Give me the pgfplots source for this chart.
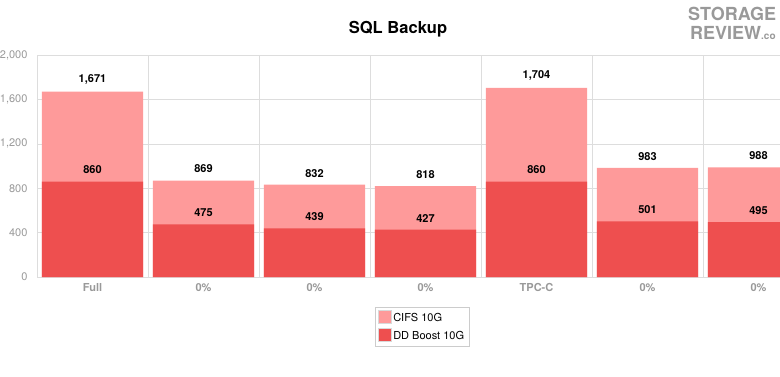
\documentclass[border=0pt]{standalone}
\usepackage{fontspec}
\setmainfont{TeX Gyre Heros}
\usepackage{pgfplots}
\pgfplotsset{compat=1.18}
\definecolor{cifs}{HTML}{FE9A9A}
\definecolor{ddb}{HTML}{EE4F4F}
\definecolor{gridc}{HTML}{DDDDDD}
\definecolor{tickc}{HTML}{999999}
\begin{document}
\begin{tikzpicture}[x=1pt,y=1pt]
\useasboundingbox (0,0) rectangle (780,376);
\clip (0,0) rectangle (780,376);
\begin{axis}[
  at={(37pt,99pt)}, anchor=south west, scale only axis,
  width=777pt, height=222pt,
  xmin=-0.5, xmax=6.5, ymin=0, ymax=2000,
  ybar, bar width=0.91,
  xtick={0,...,6},
  xticklabels={Full,0\%,0\%,0\%,TPC-C,0\%,0\%},
  minor xtick={-0.5,0.5,...,6.5},
  xminorgrids, ymajorgrids,
  ytick={0,400,...,2000},
  major tick length=0pt, minor tick length=0pt,
  grid style={gridc}, minor grid style={gridc},
  axis line style={gridc},
  /pgf/number format/assume math mode=true,
  /pgf/number format/1000 sep={,},
  ticklabel style={font=\fontsize{11}{13}\selectfont, tickc},
  xticklabel style={yshift=-3pt, font=\bfseries\fontsize{11}{13}\selectfont},
  yticklabel style={xshift=-6pt},
  nodes near coords,
  nodes near coords style={font=\bfseries\fontsize{11}{13}\selectfont, black, yshift=4pt},
  legend style={at={(0.4955,-0.135)}, anchor=north, draw=gray!40,
    font=\fontsize{11}{13}\selectfont, row sep=3pt, inner sep=3pt},
  legend cell align=left,
  legend image code/.code={\draw[#1, draw=gray!30] (0pt,-5pt) rectangle (13pt,8pt);},
]
\addplot[fill=cifs, draw=none, bar shift=0pt] coordinates {(0,1671) (1,869) (2,832) (3,818) (4,1704) (5,983) (6,988)};
\addlegendentry{CIFS 10G}
\addplot[fill=ddb, draw=none, bar shift=0pt] coordinates {(0,860) (1,475) (2,439) (3,427) (4,860) (5,501) (6,495)};
\addlegendentry{DD Boost 10G}
\end{axis}
\node[font=\bfseries\fontsize{16.5}{19}\selectfont] at (398,347) {SQL Backup};
\node[font=\bfseries\fontsize{18}{18}\selectfont, text=gray!80, anchor=north west, inner sep=0pt] at (688,369) {STORAGE};
\node[font=\bfseries\fontsize{18}{18}\selectfont, text=gray!80, anchor=north west, inner sep=0pt] at (690,350) {REVIEW\fontsize{10}{10}\selectfont.co};
\end{tikzpicture}
\end{document}
